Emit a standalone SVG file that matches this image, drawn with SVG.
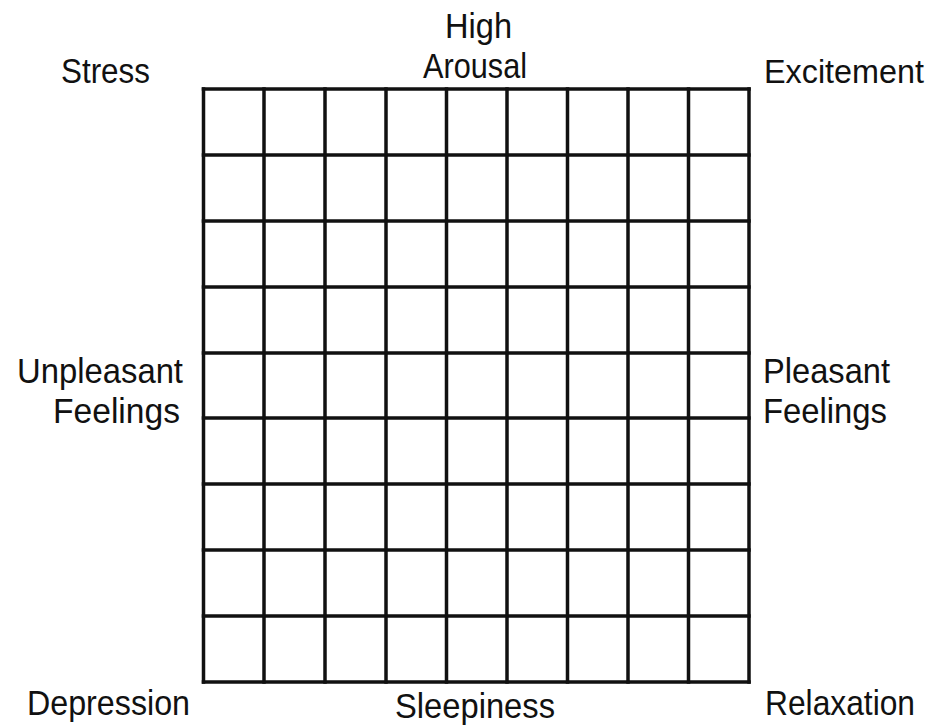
<svg xmlns="http://www.w3.org/2000/svg" width="935" height="728" viewBox="0 0 935 728">
<style>
text{font-family:"Liberation Sans",Arial,sans-serif;font-size:35px;fill:#111;}
.g line{stroke:#111;stroke-width:3.5;stroke-linecap:square;}
</style>
<rect width="935" height="728" fill="#fff"/>
<g id="grid" class="g">
<line x1="203.5" y1="89" x2="749" y2="89"/>
<line x1="203.5" y1="155" x2="749" y2="155"/>
<line x1="203.5" y1="221" x2="749" y2="221"/>
<line x1="203.5" y1="287" x2="749" y2="287"/>
<line x1="203.5" y1="353" x2="749" y2="353"/>
<line x1="203.5" y1="418" x2="749" y2="418"/>
<line x1="203.5" y1="484" x2="749" y2="484"/>
<line x1="203.5" y1="550" x2="749" y2="550"/>
<line x1="203.5" y1="616" x2="749" y2="616"/>
<line x1="203.5" y1="682" x2="749" y2="682"/>
<line x1="203.5" y1="89" x2="203.5" y2="682"/>
<line x1="264" y1="89" x2="264" y2="682"/>
<line x1="325" y1="89" x2="325" y2="682"/>
<line x1="386" y1="89" x2="386" y2="682"/>
<line x1="446.5" y1="89" x2="446.5" y2="682"/>
<line x1="507" y1="89" x2="507" y2="682"/>
<line x1="567.5" y1="89" x2="567.5" y2="682"/>
<line x1="628" y1="89" x2="628" y2="682"/>
<line x1="688.5" y1="89" x2="688.5" y2="682"/>
<line x1="749" y1="89" x2="749" y2="682"/>
</g>
<g id="labels">
<text x="61" y="83" textLength="89" lengthAdjust="spacingAndGlyphs">Stress</text>
<text x="445" y="38" textLength="67" lengthAdjust="spacingAndGlyphs">High</text>
<text x="423" y="78" textLength="104" lengthAdjust="spacingAndGlyphs">Arousal</text>
<text x="764" y="83" font-size="33" style="font-size:33px" textLength="160" lengthAdjust="spacingAndGlyphs">Excitement</text>
<text x="17" y="383" textLength="166" lengthAdjust="spacingAndGlyphs">Unpleasant</text>
<text x="53" y="423" textLength="127" lengthAdjust="spacingAndGlyphs">Feelings</text>
<text x="763" y="383" textLength="127" lengthAdjust="spacingAndGlyphs">Pleasant</text>
<text x="763" y="423" textLength="124" lengthAdjust="spacingAndGlyphs">Feelings</text>
<text x="27" y="715" textLength="163" lengthAdjust="spacingAndGlyphs">Depression</text>
<text x="395" y="718" textLength="160" lengthAdjust="spacingAndGlyphs">Sleepiness</text>
<text x="765" y="715" textLength="150" lengthAdjust="spacingAndGlyphs">Relaxation</text>
</g>
</svg>
